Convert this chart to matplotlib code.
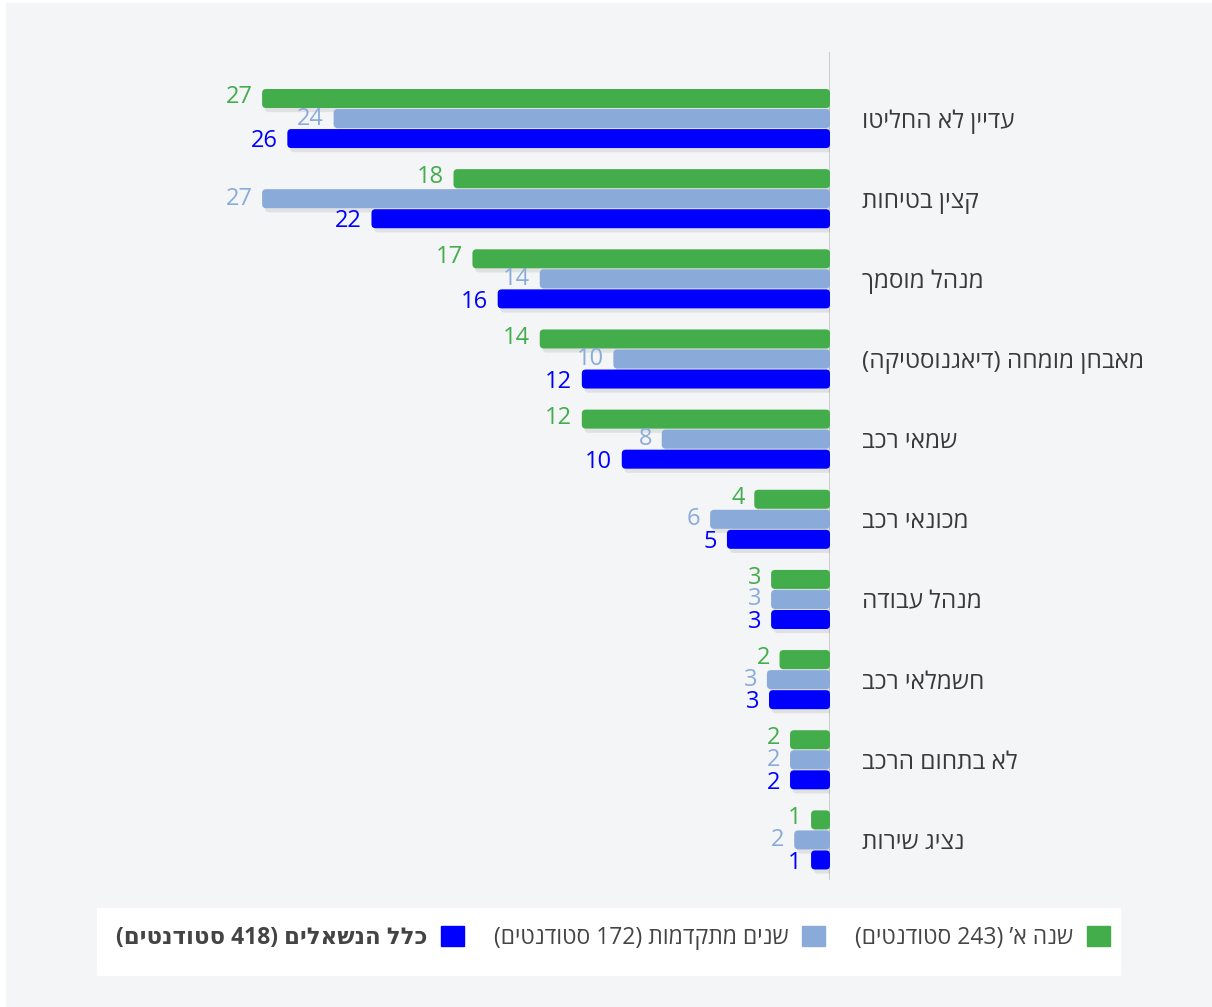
import re
import numpy as np
import matplotlib
matplotlib.use("Agg")
import matplotlib.pyplot as plt
from matplotlib.patches import FancyBboxPatch, Patch, Rectangle
import matplotlib.patheffects as pe

plt.rcParams['font.family'] = ['Open Sans', 'DejaVu Sans']

# data (percent of respondents)
categories = ["עדיין לא החליטו", "קצין בטיחות", "מנהל מוסמך",
              "מאבחן מומחה (דיאגנוסטיקה)", "שמאי רכב", "מכונאי רכב",
              "מנהל עבודה", "חשמלאי רכב", "לא בתחום הרכב", "נציג שירות"]
first_year = [27.0, 17.9, 17.0, 13.8, 11.8, 3.6, 2.8, 2.4, 1.9, 0.9]
advanced = [23.6, 27.0, 13.8, 10.3, 8.0, 5.7, 2.8, 3.0, 1.9, 1.7]
all_resp = [25.8, 21.8, 15.8, 11.8, 9.9, 4.9, 2.8, 2.9, 1.9, 0.9]
series_names = ["שנה א’ (243 סטודנטים)", "שנים מתקדמות (172 סטודנטים)",
                "כלל הנשאלים (418 סטודנטים)"]
colors = ["#43ac4b", "#8aabd9", "#0000ff"]


def visual(s):
    """Turn a logical Hebrew string into visual (left-to-right) order."""
    out = s[::-1]
    out = re.sub(r'\d+', lambda m: m.group(0)[::-1], out)
    return out.translate(str.maketrans('()', ')('))


fig = plt.figure(figsize=(12.12, 10.07), dpi=100, facecolor='white')
fig.patches.append(Rectangle((6 / 1212, 0), 1, 1 - 3 / 1007,
                             transform=fig.transFigure, color='#f4f5f7',
                             zorder=-10))
ax = fig.add_axes([199 / 1212, 127 / 1007, 631 / 1212, 828 / 1007])
ax.set_facecolor('none')

y = np.arange(len(categories))
h = 0.237
offsets = [-0.25, 0.0, 0.25]
label_dy = [1, 0, -2]
data = [first_year, advanced, all_resp]

# pixel -> data conversions for rounded corners
px_x = 30 / 631
px_y = (9.5 + 0.83) / 828
for k, vals in enumerate(data):
    bars = ax.barh(y + offsets[k], vals, height=h, color=colors[k])
    for b, v in zip(bars, vals):
        b.set_visible(False)
        fb = FancyBboxPatch((b.get_x(), b.get_y()), b.get_width(),
                            b.get_height(),
                            boxstyle=f"round,pad=0,rounding_size={4 * px_x}",
                            mutation_aspect=px_y / px_x,
                            facecolor=colors[k], edgecolor='none', zorder=3)
        fb.set_path_effects([pe.SimplePatchShadow(offset=(2, -3),
                                                  shadow_rgbFace='k',
                                                  alpha=0.08),
                             pe.Normal()])
        ax.add_patch(fb)
        ax.annotate(f"{v:.0f}", (v, b.get_y() + b.get_height() / 2),
                    xytext=(-7, label_dy[k]), textcoords='offset points',
                    ha='right', va='center',
                    fontsize=17, color=colors[k],
                    fontweight='medium' if k == 2 else 'normal', zorder=4)

ax.set_xlim(30, 0)
ax.set_ylim(9.5, -0.83)
ax.axvline(0, color='#c9c9c9', lw=2, zorder=2)

ax.yaxis.tick_right()
ax.set_yticks(y)
ax.set_yticklabels([visual(c) for c in categories], fontsize=17.5,
                   color='#3a3a3a', ha='left')
ax.tick_params(axis='y', length=0, pad=23)
ax.set_xticks([])
for s in ax.spines.values():
    s.set_visible(False)

# legend box
fig.patches.append(Rectangle((97 / 1212, 1 - 975 / 1007), 1023 / 1212,
                             67 / 1007, transform=fig.transFigure,
                             color='white', zorder=-5))
handles = [Patch(color=colors[k]) for k in [2, 1, 0]]
labels = [visual(series_names[k]) for k in [2, 1, 0]]
leg = fig.legend(handles, labels, loc='center',
                 bbox_to_anchor=(613 / 1212, 1 - 938 / 1007), ncol=3,
                 frameon=False, markerfirst=False, fontsize=16.5,
                 handlelength=1.0, handleheight=1.0, handletextpad=0.6,
                 columnspacing=1.3, labelcolor='#444444')
leg.get_texts()[0].set_fontweight('bold')

fig.savefig('out.png', dpi=100, facecolor=fig.get_facecolor())
